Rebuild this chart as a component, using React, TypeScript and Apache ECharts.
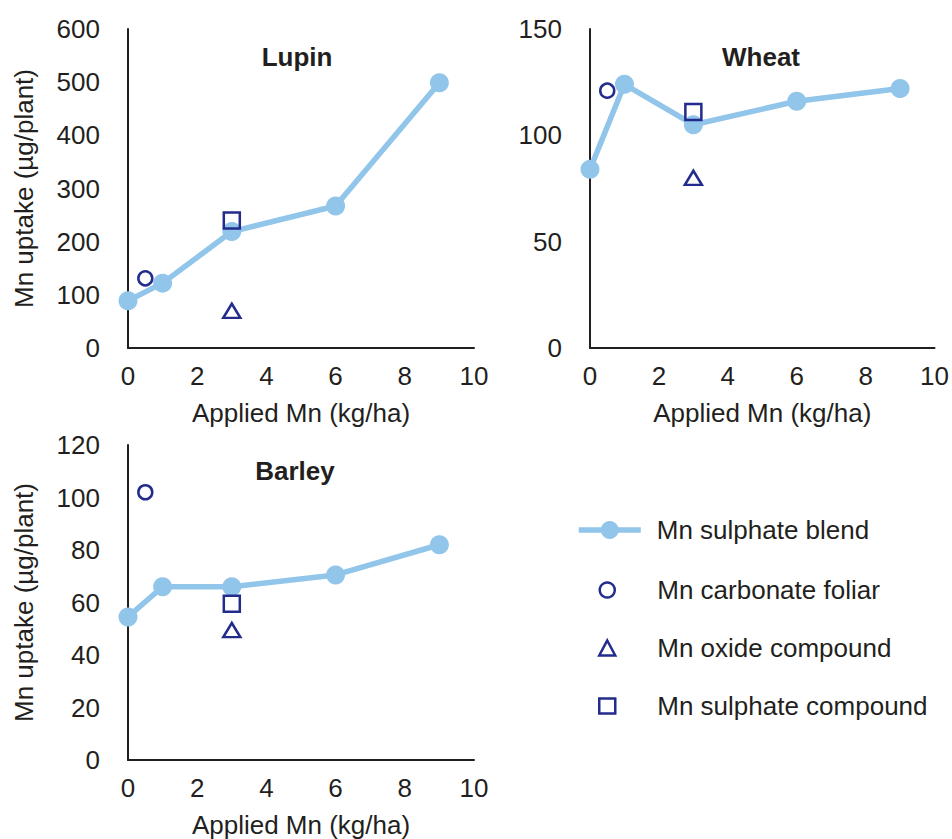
import React, { useEffect, useRef } from "react";
import * as echarts from "echarts";

const xTicks = [0, 2, 4, 6, 8, 10];
const blendX = [0, 1, 3, 6, 9];

const lupinBlend = [89, 122, 219, 267, 499];
const lupinCarbonate = [[0.5, 131]];
const lupinOxide = [[3, 70]];
const lupinSulphate = [[3, 240]];

const wheatBlend = [84, 124, 105, 116, 122];
const wheatCarbonate = [[0.5, 121]];
const wheatOxide = [[3, 80]];
const wheatSulphate = [[3, 111]];

const barleyBlend = [54.5, 66, 66, 70.5, 82];
const barleyCarbonate = [[0.5, 102]];
const barleyOxide = [[3, 49.5]];
const barleySulphate = [[3, 59.5]];

const panelTitles = ["Lupin", "Wheat", "Barley"];
const yMax = [600, 150, 120];
const yInterval = [100, 50, 20];

const LIGHT = "#92C5EA";
const NAVY = "#232C8C";
const INK = "#231F20";
const FONT = "Liberation Sans, Arial, sans-serif";
const FS = 26;

export default function App() {
  const ref = useRef<HTMLDivElement>(null);
  useEffect(() => {
    document.body.style.margin = "0";
    const chart = echarts.init(ref.current!, null, { renderer: "svg" });

    const grids = [
      { left: 128, top: 29, width: 346, height: 319 },
      { left: 590, top: 29, width: 346, height: 319 },
      { left: 128, top: 445, width: 346, height: 318 },
    ];

    const xAxes = grids.map((_, i) => ({
      type: "value",
      gridIndex: i,
      min: 0,
      max: 10,
      interval: 2,
      name: "Applied Mn (kg/ha)",
      nameLocation: "middle",
      nameGap: 52,
      nameTextStyle: { fontSize: FS, color: INK, fontFamily: FONT },
      axisLine: { show: true, onZero: false, lineStyle: { color: INK, width: 2 } },
      axisTick: { show: false },
      splitLine: { show: false },
      axisLabel: { fontSize: FS, color: INK, fontFamily: FONT, margin: 15 },
    }));

    const yAxes = grids.map((_, i) => ({
      type: "value",
      gridIndex: i,
      min: 0,
      max: yMax[i],
      interval: yInterval[i],
      name: i === 1 ? "" : "Mn uptake (µg/plant)",
      nameLocation: "middle",
      nameGap: 91,
      nameTextStyle: { fontSize: FS, color: INK, fontFamily: FONT },
      axisLine: { show: true, lineStyle: { color: INK, width: 2 } },
      axisTick: { show: false },
      splitLine: { show: false },
      axisLabel: { fontSize: FS, color: INK, fontFamily: FONT, margin: 28 },
    }));

    const blends = [lupinBlend, wheatBlend, barleyBlend];
    const carbs = [lupinCarbonate, wheatCarbonate, barleyCarbonate];
    const oxides = [lupinOxide, wheatOxide, barleyOxide];
    const sulphs = [lupinSulphate, wheatSulphate, barleySulphate];

    const hollow = {
      color: "rgba(255,255,255,0)",
      borderColor: NAVY,
      borderWidth: 2.5,
      opacity: 1,
    };

    const series: any[] = [];
    for (let i = 0; i < 3; i++) {
      series.push({
        name: "Mn sulphate blend",
        type: "line",
        xAxisIndex: i,
        yAxisIndex: i,
        data: blendX.map((x, k) => [x, blends[i][k]]),
        symbol: "circle",
        symbolSize: 19,
        lineStyle: { color: LIGHT, width: 5.5 },
        itemStyle: { color: LIGHT, opacity: 1 },
        z: 2,
      });
      series.push({
        name: "Mn carbonate foliar",
        type: "scatter",
        xAxisIndex: i,
        yAxisIndex: i,
        data: carbs[i],
        symbol: "circle",
        symbolSize: 14,
        itemStyle: hollow,
        z: 3,
      });
      series.push({
        name: "Mn oxide compound",
        type: "scatter",
        xAxisIndex: i,
        yAxisIndex: i,
        data: oxides[i],
        symbol: "triangle",
        symbolSize: [17, 14],
        itemStyle: hollow,
        z: 3,
      });
      series.push({
        name: "Mn sulphate compound",
        type: "scatter",
        xAxisIndex: i,
        yAxisIndex: i,
        data: sulphs[i],
        symbol: "rect",
        symbolSize: 16,
        itemStyle: hollow,
        z: 3,
      });
    }

    const titleCenters = [
      { left: 297, top: 44 },
      { left: 761, top: 44 },
      { left: 295, top: 458 },
    ];

    chart.setOption({
      animation: false,
      backgroundColor: "#fff",
      title: panelTitles.map((t, i) => ({
        text: t,
        left: titleCenters[i].left,
        top: titleCenters[i].top,
        textAlign: "center",
        padding: 0,
        textStyle: { fontSize: FS, fontWeight: "bold", color: INK, fontFamily: FONT },
      })),
      grid: grids,
      xAxis: xAxes,
      yAxis: yAxes,
      legend: [
        {
          data: ["Mn sulphate blend"],
          orient: "vertical",
          left: 576,
          top: 517,
          itemWidth: 62,
          itemHeight: 22.5,
          padding: 0,
          selectedMode: false,
          lineStyle: { width: 5.5 },
          textStyle: { fontSize: FS, color: INK, fontFamily: FONT, padding: [0, 0, 0, 11] },
        },
        {
          data: [
            { name: "Mn carbonate foliar", itemStyle: { borderWidth: 2.5 } },
            { name: "Mn oxide compound", itemStyle: { borderWidth: 2.5 } },
            { name: "Mn sulphate compound", itemStyle: { borderWidth: 2.5 } },
          ],
          orient: "vertical",
          left: 598,
          top: 577,
          itemWidth: 16,
          itemHeight: 15,
          itemGap: 32,
          padding: 0,
          selectedMode: false,
          textStyle: { fontSize: FS, color: INK, fontFamily: FONT, padding: [0, 0, 0, 37] },
        },
      ],
      series,
    });
    return () => chart.dispose();
  }, []);
  return <div ref={ref} style={{ width: 952, height: 839 }} />;
}
